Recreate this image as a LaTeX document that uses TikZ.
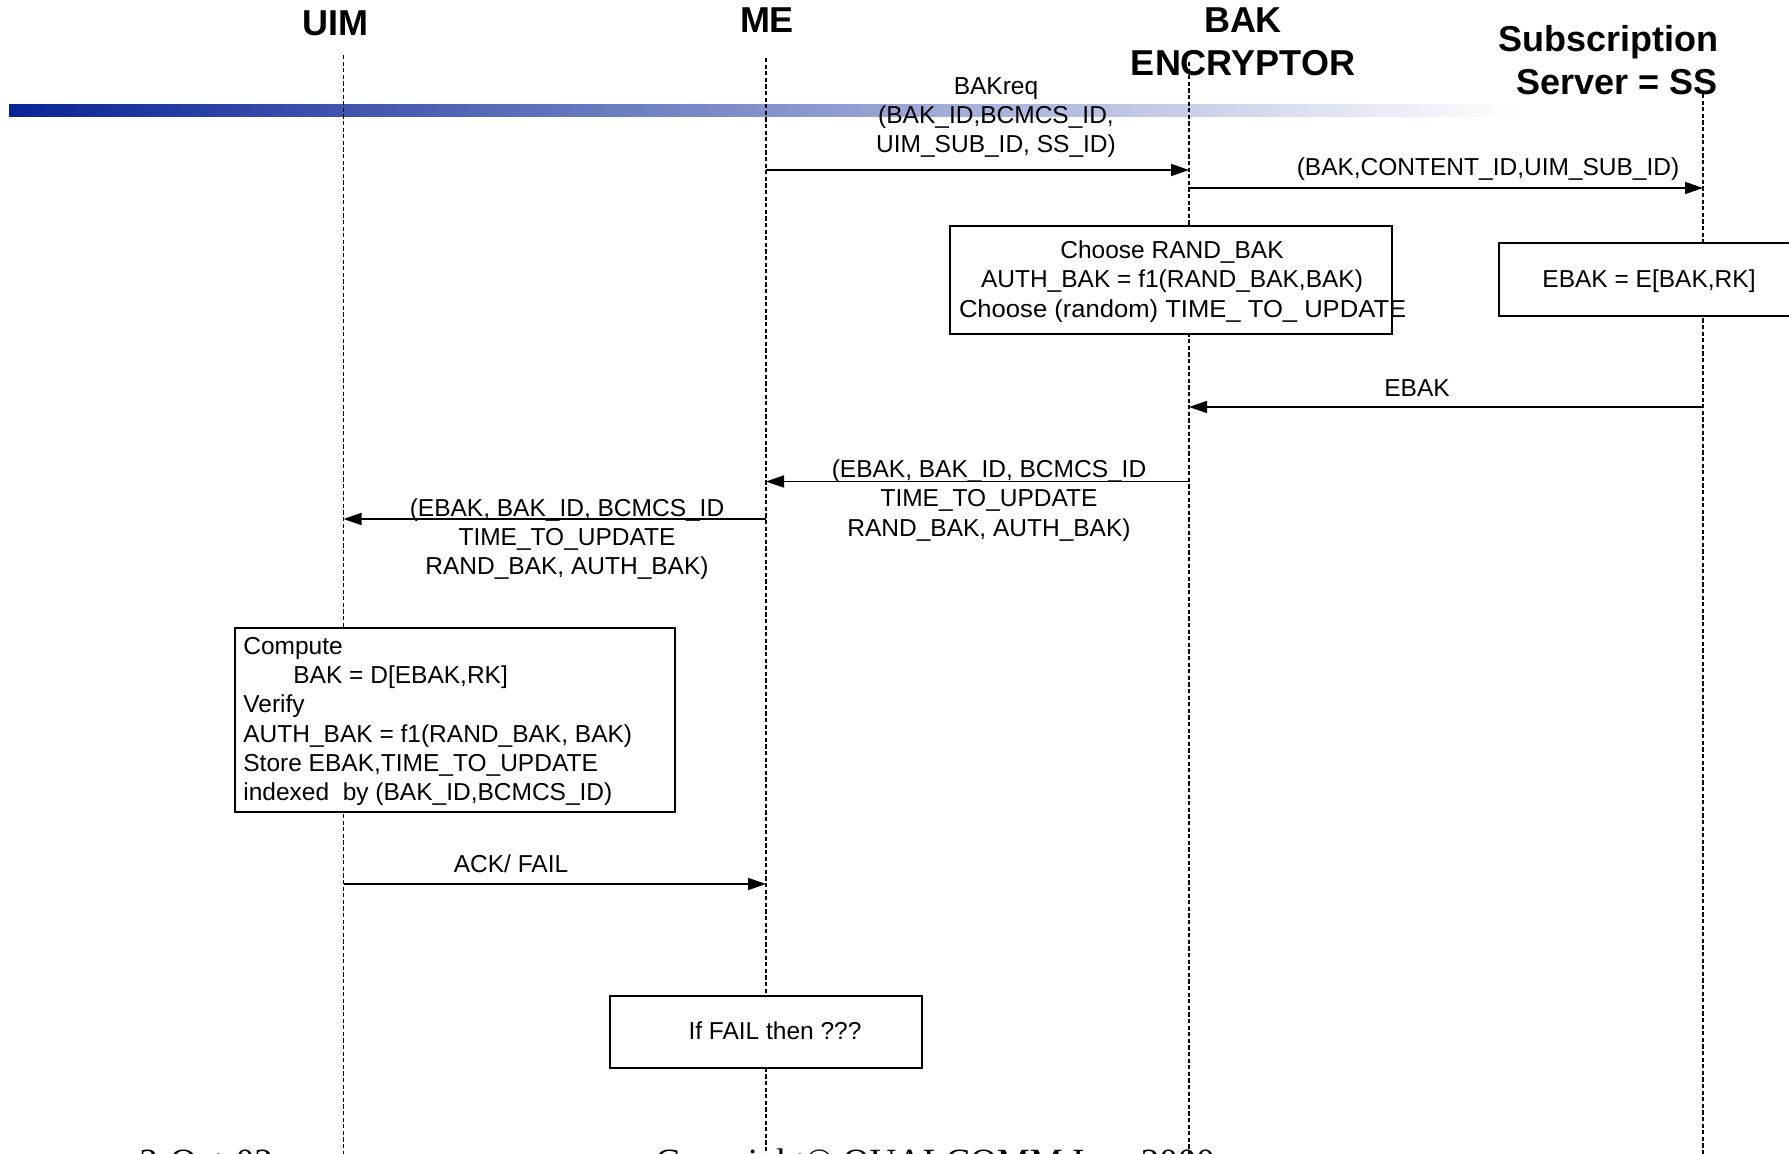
\documentclass[tikz,border=0pt]{standalone}
\usepackage{graphicx}
\usepackage{fontspec}
\setmainfont{Liberation Sans}
\newfontfamily\footfont{Liberation Serif}
\usetikzlibrary{arrows.meta}
\definecolor{barblue}{RGB}{8,36,150}

\begin{document}
\begin{tikzpicture}[x=0.5pt,y=-0.5pt,
  lifeline/.style={draw=black, line width=0.6pt, dash pattern=on 2.1pt off 1.2pt},
  msg/.style={draw=black, line width=0.9pt, -{Triangle[length=9pt,width=6pt]}},
  lbl/.style={font=\fontsize{12.25pt}{14.6pt}\selectfont, inner sep=0pt, align=center},
  lbll/.style={lbl, align=left},
  head/.style={font=\fontsize{18pt}{21.5pt}\selectfont\bfseries, inner sep=0pt, align=center},
  notebox/.style={draw=black, line width=0.7pt, fill=white, inner sep=0pt},
  foot/.style={font=\footfont\fontsize{18.5pt}{22pt}\selectfont, inner sep=0pt, anchor=base west},
]
\useasboundingbox (0,0) rectangle (1789,1154);
\fill[white] (0,0) rectangle (1789,1154);

% slide title bar
\shade[left color=barblue, right color=white] (9,105) rectangle (1520,117);

% lifeline ends
\coordinate (uimT) at (343.5,55);  \coordinate (uimB) at (343.5,1160);
\coordinate (meT)  at (766,58);    \coordinate (meB)  at (766,1160);
\coordinate (bakT) at (1189,62);   \coordinate (bakB) at (1189,1160);
\coordinate (ssT)  at (1703,94);   \coordinate (ssB)  at (1703,1160);

\draw[lifeline] (uimT) -- (uimB);
\draw[lifeline] (meT) -- (meB);
\draw[lifeline] (bakT) -- (bakB);
\draw[lifeline] (ssT) -- (ssB);

% entity headings
\node[head] (uimH) at (335,23) {UIM};
\node[head] (meH) at (767,20) {ME};
\node[head] (bakH) at (1243,42) {BAK\\ENCRYPTOR};
\node[head] (ssH) at (1608,60) {Subscription\\\hspace*{9pt}Server = SS};

% message 1: BAK request
\coordinate (me1) at (766,170);  \coordinate (bak1) at (1189,170);
\draw[msg] (me1) -- (bak1);
\node[lbl] (m1) at (996,117.5) {BAKreq\\(BAK\_ID,BCMCS\_ID,\\UIM\_SUB\_ID, SS\_ID)};

% message 2: to subscription server
\coordinate (bak2) at (1189,188);  \coordinate (ss2) at (1703,188);
\draw[msg] (bak2) -- (ss2);
\node[lbl] (m2) at (1488,169) {(BAK,CONTENT\_ID,UIM\_SUB\_ID)};

% processing at the BAK encryptor
\node[notebox, minimum width=221pt, minimum height=54pt] (chooseBox) at (1171,280) {};
\node[lbl] (chooseTxt) at (1172,281.5) {Choose RAND\_BAK\\AUTH\_BAK = f1(RAND\_BAK,BAK)\\\makebox[213pt][l]{\scalebox{1.045}[1]{Choose (random) TIME\_ TO\_ UPDATE}}};

% processing at the subscription server
\node[notebox, minimum width=150.5pt, minimum height=36.5pt] (ebakBox) at (1649.5,279.5) {};
\node[lbl] (ebakTxt) at (1649,281) {EBAK = E[BAK,RK]};

% message 3: EBAK back
\coordinate (ss3) at (1703,407);  \coordinate (bak3) at (1189,407);
\draw[msg] (ss3) -- (bak3);
\node[lbl] (m3) at (1417,388) {EBAK};

% message 4: encryptor to ME
\coordinate (bak4) at (1189,481.5);  \coordinate (me4) at (766,481.5);
\draw[msg] (bak4) -- (me4);
\node[lbl] (m4) at (989,500.5) {(EBAK, BAK\_ID, BCMCS\_ID\\TIME\_TO\_UPDATE\\RAND\_BAK, AUTH\_BAK)};

% message 5: ME to UIM
\coordinate (me5) at (766,519);  \coordinate (uim5) at (343.5,519);
\draw[msg] (me5) -- (uim5);
\node[lbl] (m5) at (567,539) {(EBAK, BAK\_ID, BCMCS\_ID\\TIME\_TO\_UPDATE\\RAND\_BAK, AUTH\_BAK)};

% processing at the UIM
\node[notebox, minimum width=220pt, minimum height=92pt] (uimBox) at (455,720) {};
\node[lbll, anchor=west] (uimTxt) at (243,721.5) {Compute\\\hspace*{25pt}BAK = D[EBAK,RK]\\Verify\\AUTH\_BAK = f1(RAND\_BAK, BAK)\\Store EBAK,TIME\_TO\_UPDATE\\indexed\ \ by (BAK\_ID,BCMCS\_ID)};

% message 6: acknowledgement
\coordinate (uim6) at (343.5,884);  \coordinate (me6) at (766,884);
\draw[msg] (uim6) -- (me6);
\node[lbl] (m6) at (511,864) {ACK/ FAIL};

% failure handling
\node[notebox, minimum width=156pt, minimum height=36pt] (failBox) at (766,1032) {};
\node[lbl] (failTxt) at (775,1031) {If FAIL then ???};

% footer
\node[foot] (date) at (139,1174) {3-Oct-02};
\node[foot] (copy) at (655,1174) {Copyright© QUALCOMM Inc. 2000};
\end{tikzpicture}
\end{document}
